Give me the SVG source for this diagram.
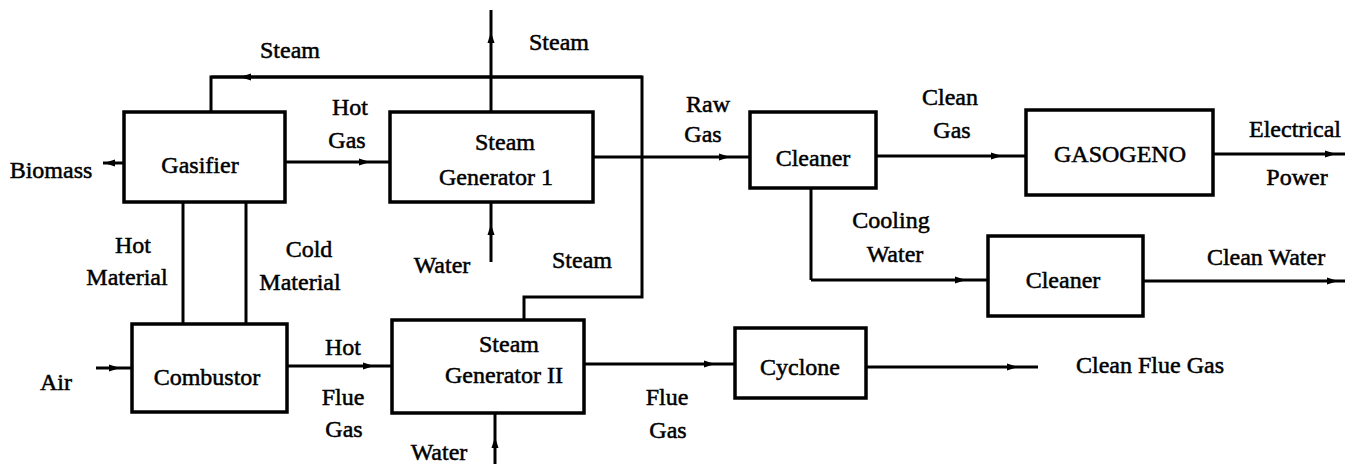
<svg xmlns="http://www.w3.org/2000/svg" width="1356" height="464" viewBox="0 0 1356 464">
<style>
.box{fill:#fff;stroke:#000;stroke-width:3.5}
.ln{fill:none;stroke:#000;stroke-width:3;marker-mid:url(#ah)}
.pl{fill:none;stroke:#000;stroke-width:3}
text{font-family:"Liberation Serif","Times New Roman",serif;font-size:24px;fill:#000;stroke:#000;stroke-width:0.5;text-anchor:middle}
</style>
<defs>
<marker id="ah" markerUnits="userSpaceOnUse" markerWidth="14" markerHeight="10" viewBox="-12 -5 14 10" refX="0" refY="0" orient="auto">
<path d="M0,0 L-11,-3.5 L-11,3.5 z" fill="#000"/>
</marker>
</defs>
<rect width="1356" height="464" fill="#fff"/>
<g id="connectors">
<path class="pl" d="M211 112 V77 H642 V297 H524 V320"/>
<path class="ln" d="M642 77 L240 77 L211 77"/>
<path class="ln" d="M491 112 L491 32 L491 10"/>
<path class="ln" d="M124 163 L104 163 L103 163"/>
<path class="ln" d="M285 162 L370 162 L390 162"/>
<path class="ln" d="M593 157 L730 157 L750 157"/>
<path class="ln" d="M876 156 L1002 156 L1026 156"/>
<path class="ln" d="M1213 154 L1336 154 L1345 154"/>
<path class="ln" d="M491 262 L491 224 L491 202"/>
<path class="pl" d="M811 188 V280"/>
<path class="ln" d="M811 280 L966 280 L988 280"/>
<path class="ln" d="M1143 281 L1338 281 L1345 281"/>
<path class="pl" d="M183 202 V324"/>
<path class="pl" d="M246 202 V324"/>
<path class="ln" d="M96 368 L120 368 L132 368"/>
<path class="ln" d="M287 366 L374 366 L392 366"/>
<path class="ln" d="M584 364 L715 364 L735 364"/>
<path class="ln" d="M866 367 L1018 367 L1038 367"/>
<path class="ln" d="M495 464 L495 437 L495 413"/>
</g>
<g id="gasifier"><rect class="box" x="124" y="112" width="161" height="90"/><text x="200" y="173">Gasifier</text></g>
<g id="sg1"><rect class="box" x="390" y="112" width="203" height="90"/><text x="505" y="150">Steam</text><text x="496" y="185">Generator 1</text></g>
<g id="cleaner1"><rect class="box" x="750" y="112" width="126" height="76"/><text x="813" y="166">Cleaner</text></g>
<g id="gasogeno"><rect class="box" x="1026" y="110" width="187" height="85"/><text x="1120" y="162">GASOGENO</text></g>
<g id="cleaner2"><rect class="box" x="988" y="236" width="155" height="80"/><text x="1063" y="288">Cleaner</text></g>
<g id="combustor"><rect class="box" x="132" y="324" width="155" height="88"/><text x="207" y="385">Combustor</text></g>
<g id="sg2"><rect class="box" x="392" y="320" width="192" height="93"/><text x="509" y="352">Steam</text><text x="504" y="383">Generator II</text></g>
<g id="cyclone"><rect class="box" x="735" y="328" width="131" height="70"/><text x="800" y="375">Cyclone</text></g>
<g id="labels">
<text x="290" y="58">Steam</text>
<text x="559" y="50">Steam</text>
<text x="350" y="115">Hot</text><text x="347" y="148">Gas</text>
<text x="51" y="178">Biomass</text>
<text x="708" y="112">Raw</text><text x="703" y="142">Gas</text>
<text x="950" y="105">Clean</text><text x="952" y="138">Gas</text>
<text x="1295" y="137">Electrical</text><text x="1297" y="185">Power</text>
<text x="891" y="228">Cooling</text><text x="895" y="262">Water</text>
<text x="1266" y="265">Clean Water</text>
<text x="1150" y="373">Clean Flue Gas</text>
<text x="133" y="253">Hot</text><text x="127" y="285">Material</text>
<text x="309" y="257">Cold</text><text x="300" y="290">Material</text>
<text x="442" y="273">Water</text>
<text x="582" y="268">Steam</text>
<text x="56" y="390">Air</text>
<text x="343" y="355">Hot</text><text x="343" y="405">Flue</text><text x="344" y="437">Gas</text>
<text x="667" y="405">Flue</text><text x="668" y="438">Gas</text>
<text x="439" y="460">Water</text>
</g>
</svg>
